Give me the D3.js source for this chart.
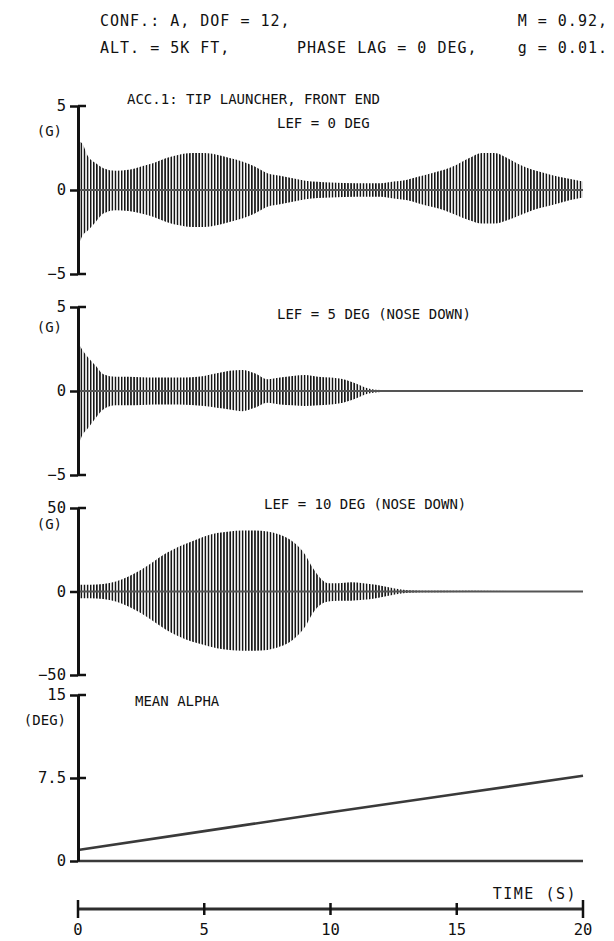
<!DOCTYPE html>
<html>
<head>
<meta charset="utf-8">
<script src="https://cdn.jsdelivr.net/npm/d3@7"></script>
<style>
  html, body { margin: 0; padding: 0; background: #fff; }
  svg text { font-family: "DejaVu Sans Mono", monospace; font-size: 14px; fill: #111; }
  svg text.hdr { font-size: 15px; letter-spacing: 1px; }
</style>
</head>
<body>
<svg id="chart" width="614" height="941"></svg>
<script>
// ---- time axis ----
const timeDomain = [0, 20];
const timeTicks = [0, 5, 10, 15, 20];

// ---- LEF = 0 DEG: oscillation envelope (G) ----
const lef0Time  = [0, 0.15, 0.4, 0.7, 1.0, 1.5, 2.0, 2.5, 3.0, 3.5, 4.0, 4.5, 5.0, 5.5, 6.0, 6.5, 7.0, 7.5, 8.0, 8.5, 9.0, 10, 11, 12, 12.5, 13, 13.5, 14, 14.5, 15, 15.5, 16, 16.5, 17, 17.5, 18, 18.5, 19, 19.5, 20];
const lef0Upper = [2.9, 2.8, 2.0, 1.6, 1.3, 1.15, 1.2, 1.4, 1.6, 1.9, 2.1, 2.2, 2.2, 2.1, 1.9, 1.7, 1.4, 1.0, 0.85, 0.7, 0.55, 0.45, 0.4, 0.4, 0.5, 0.6, 0.8, 1.0, 1.2, 1.5, 1.9, 2.2, 2.2, 1.9, 1.5, 1.2, 1.0, 0.8, 0.65, 0.5];
const lef0Lower = [-3.4, -2.8, -2.4, -1.9, -1.4, -1.2, -1.25, -1.4, -1.6, -1.9, -2.1, -2.2, -2.2, -2.1, -1.9, -1.7, -1.4, -1.0, -0.85, -0.7, -0.55, -0.45, -0.4, -0.4, -0.5, -0.6, -0.8, -1.0, -1.2, -1.5, -1.8, -2.0, -2.0, -1.8, -1.5, -1.2, -1.0, -0.8, -0.6, -0.45];

// ---- LEF = 5 DEG (nose down) ----
const lef5Time  = [0, 0.15, 0.4, 0.7, 1.0, 1.5, 2, 3, 4, 5, 5.5, 6, 6.5, 7, 7.5, 8, 8.5, 9, 9.5, 10, 10.5, 11, 11.5, 12, 20];
const lef5Upper = [2.9, 2.5, 2.0, 1.5, 1.0, 0.85, 0.85, 0.8, 0.8, 0.9, 1.05, 1.2, 1.25, 1.05, 0.7, 0.8, 0.9, 0.95, 0.85, 0.8, 0.7, 0.45, 0.15, 0.06, 0.05];
const lef5Lower = [-3.3, -2.7, -2.2, -1.6, -1.1, -0.85, -0.85, -0.8, -0.8, -0.9, -1.0, -1.1, -1.2, -1.0, -0.7, -0.8, -0.85, -0.9, -0.85, -0.8, -0.7, -0.45, -0.15, -0.06, -0.05];

// ---- LEF = 10 DEG (nose down) ----
const lef10Time  = [0, 0.5, 1.0, 1.5, 2.0, 2.5, 3.0, 3.5, 4.0, 4.5, 5.0, 5.5, 6.0, 6.5, 7.0, 7.5, 8.0, 8.5, 9.0, 9.3, 9.6, 9.9, 10.3, 10.8, 11.3, 11.8, 12.3, 12.8, 13.3, 14, 20];
const lef10Upper = [4, 4, 4.5, 6, 9, 13, 18, 23, 27, 30, 33, 35, 36, 36.5, 36.5, 36, 34, 30, 22, 14, 8, 5, 5, 5.5, 5, 4, 2.5, 1.2, 0.6, 0.4, 0.3];
const lef10Lower = [-4, -4, -4.5, -6, -9, -13, -18, -23, -27, -30, -32, -34, -35, -35.5, -35.5, -35, -33, -29, -21, -13, -8, -6, -5.5, -5.5, -5, -4, -2.5, -1.2, -0.6, -0.4, -0.3];

// ---- mean angle of attack (deg) ----
const alphaTime = [0, 5, 10, 15, 20];
const alphaDeg  = [1.0, 2.7, 4.4, 6.05, 7.7];

// ---- axis ticks ----
const gTicks = [-5, 0, 5];
const g50Ticks = [-50, 0, 50];
const degTicks = [0, 7.5, 15];

const svg = d3.select("#chart");
const ink = "#111";

// vertical hatch used to fill the oscillation envelopes
svg.append("defs").append("pattern")
  .attr("id", "osc")
  .attr("patternUnits", "userSpaceOnUse")
  .attr("width", 3.1).attr("height", 20)
  .append("rect")
  .attr("x", 0).attr("y", 0).attr("width", 1.6).attr("height", 20)
  .attr("fill", "#161616");

const x = d3.scaleLinear().domain(timeDomain).range([78, 583]);

// header block
const header = [
  { t: "CONF.: A, DOF = 12,", x: 100, y: 26, a: "start" },
  { t: "M = 0.92,", x: 608, y: 26, a: "end" },
  { t: "ALT. = 5K FT,", x: 100, y: 53, a: "start" },
  { t: "PHASE LAG = 0 DEG,", x: 297, y: 53, a: "start" },
  { t: "g = 0.01.", x: 608, y: 53, a: "end" }
];
svg.selectAll("text.hdr").data(header).join("text")
  .attr("class", "hdr")
  .attr("x", d => d.x).attr("y", d => d.y)
  .attr("text-anchor", d => d.a)
  .text(d => d.t);
svg.append("text").attr("x", 127).attr("y", 104).text("ACC.1: TIP LAUNCHER, FRONT END");

function yAxis(g, y, ticks, ends, fmt) {
  const ax = d3.axisLeft(y).tickValues(ticks).tickSize(8).tickSizeOuter(0).tickPadding(4);
  if (fmt) ax.tickFormat(fmt);
  g.call(ax);
  g.select(".domain").attr("stroke", ink).attr("stroke-width", 3);
  g.selectAll(".tick line").attr("stroke", ink).attr("stroke-width", 2.5);
  g.selectAll(".tick text").style("font-size", "15.5px").attr("fill", ink);
  // end ticks cross the axis
  g.selectAll("line.rt").data(ends).join("line")
    .attr("class", "rt")
    .attr("x1", 0).attr("x2", 8)
    .attr("y1", d => y(d)).attr("y2", d => y(d))
    .attr("stroke", ink).attr("stroke-width", 2.5);
}

const panels = [
  { time: lef0Time, up: lef0Upper, lo: lef0Lower, ticks: gTicks, top: 106, bottom: 274,
    unit: "(G)", unitY: 136, title: "LEF = 0 DEG", titleX: 277, titleY: 128 },
  { time: lef5Time, up: lef5Upper, lo: lef5Lower, ticks: gTicks, top: 307, bottom: 475,
    unit: "(G)", unitY: 332, title: "LEF = 5 DEG (NOSE DOWN)", titleX: 277, titleY: 319 },
  { time: lef10Time, up: lef10Upper, lo: lef10Lower, ticks: g50Ticks, top: 508, bottom: 675,
    unit: "(G)", unitY: 529, title: "LEF = 10 DEG (NOSE DOWN)", titleX: 264, titleY: 509 }
];

panels.forEach(p => {
  const lim = d3.max(p.ticks);
  const y = d3.scaleLinear().domain([-lim, lim]).range([p.bottom, p.top]);
  const g = svg.append("g");
  const env = d3.zip(p.time, p.up, p.lo);

  // oscillation envelope
  g.append("path")
    .datum(env)
    .attr("d", d3.area()
      .x(d => x(d[0]))
      .y0(d => y(d[2]))
      .y1(d => y(d[1]))
      .curve(d3.curveMonotoneX))
    .attr("fill", "url(#osc)");

  // mean trace through the oscillation
  g.append("path")
    .datum(timeDomain)
    .attr("d", d3.line().x(d => x(d)).y(() => y(0)))
    .attr("stroke", "#555").attr("stroke-width", 2).attr("fill", "none");

  const ag = svg.append("g").attr("transform", `translate(${x(0)},0)`);
  yAxis(ag, y, p.ticks, [p.ticks[0], p.ticks[2]]);

  svg.append("text").attr("x", 62).attr("y", p.unitY).attr("text-anchor", "end").text(p.unit);
  svg.append("text").attr("x", p.titleX).attr("y", p.titleY).text(p.title);
});

// ---- mean alpha panel ----
{
  const y = d3.scaleLinear().domain([0, 15]).range([861, 695]);
  const g = svg.append("g");
  g.append("path")
    .datum(timeDomain)
    .attr("d", d3.line().x(d => x(d)).y(() => y(0)))
    .attr("stroke", "#3a3a3a").attr("stroke-width", 2.6).attr("fill", "none");
  g.append("path")
    .datum(d3.zip(alphaTime, alphaDeg))
    .attr("d", d3.line().x(d => x(d[0])).y(d => y(d[1])))
    .attr("stroke", "#3a3a3a").attr("stroke-width", 2.6).attr("fill", "none");

  const ag = svg.append("g").attr("transform", `translate(${x(0)},0)`);
  yAxis(ag, y, degTicks, [7.5, 15], d => String(d));

  svg.append("text").attr("x", 66).attr("y", 725).attr("text-anchor", "end").text("(DEG)");
  svg.append("text").attr("x", 135).attr("y", 706).text("MEAN ALPHA");
}

// ---- time axis ----
{
  const y0 = 909;
  const g = svg.append("g");
  g.append("line")
    .attr("x1", x(timeDomain[0])).attr("x2", x(timeDomain[1]))
    .attr("y1", y0).attr("y2", y0)
    .attr("stroke", "#2e2e2e").attr("stroke-width", 3);
  const isEnd = d => d === timeDomain[0] || d === timeDomain[1];
  g.selectAll("line.tk").data(timeTicks).join("line")
    .attr("class", "tk")
    .attr("x1", d => x(d)).attr("x2", d => x(d))
    .attr("y1", d => y0 - (isEnd(d) ? 9 : 6))
    .attr("y2", d => y0 + (isEnd(d) ? 9 : 6))
    .attr("stroke", ink).attr("stroke-width", 2.5);
  g.selectAll("text.tl").data(timeTicks).join("text")
    .attr("class", "tl")
    .attr("x", d => x(d)).attr("y", 935)
    .attr("text-anchor", "middle")
    .style("font-size", "15.5px")
    .text(d => d);
  svg.append("text").attr("x", 577).attr("y", 899).attr("text-anchor", "end")
    .style("font-size", "15px").style("letter-spacing", "1.5px").text("TIME (S)");
}
</script>
</body>
</html>
